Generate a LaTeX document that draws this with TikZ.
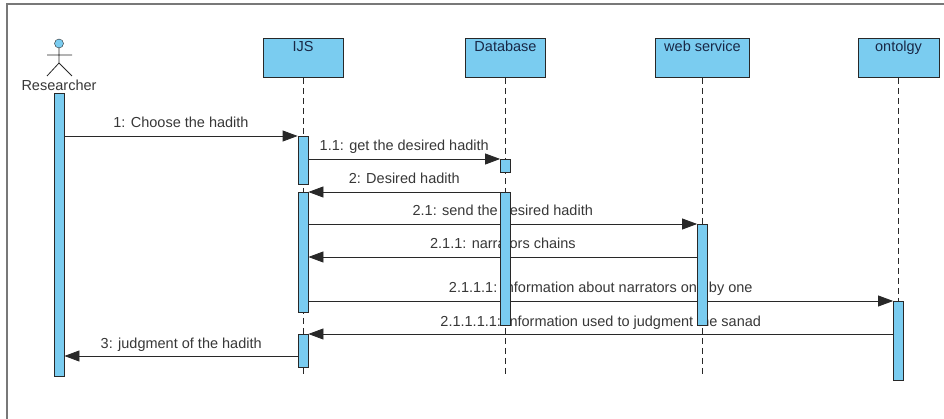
\documentclass[tikz,border=0pt]{standalone}
\usepackage{fontspec}
\setmainfont{Liberation Sans}
\usepackage{tikz}
\usetikzlibrary{arrows.meta, positioning}
\definecolor{seqblue}{RGB}{122,204,240}
\definecolor{seqline}{RGB}{40,40,40}
\definecolor{seqtext}{RGB}{55,55,55}
\definecolor{headtext}{RGB}{25,40,70}
\definecolor{framegray}{RGB}{120,120,120}
\pgfdeclarelayer{background}
\pgfsetlayers{background,main}

\begin{document}
\begin{tikzpicture}[x=1pt, y=-1pt,
    head/.style = {draw=seqline, fill=seqblue, line width=0.9pt, anchor=north,
        minimum height=39pt, inner xsep=0pt, inner ysep=3pt,
        text height=10pt, text depth=23pt, text=headtext,
        font=\fontsize{14.5}{16}\selectfont},
    bar/.style = {draw=seqline, fill=seqblue, line width=0.8pt, anchor=north,
        minimum width=10pt, inner sep=0pt},
    life/.style = {draw=seqline, line width=0.8pt, dash pattern=on 6pt off 4pt},
    msg/.style = {draw=seqline, line width=0.8pt, -{Triangle[length=15pt,width=11pt]}},
    lbl/.style = {text=seqtext, anchor=base, yshift=8pt, inner sep=0pt,
        font=\fontsize{14.5}{16}\selectfont}]

      \useasboundingbox (0,0) rectangle (944,419);
      \draw[framegray, line width=1.4pt] (7,419) -- (7,4) -- (944,4);

      \node[draw=seqline, fill=seqblue, circle, inner sep=0pt, minimum size=9pt] (actor) at (59,43.5) {};
      \draw[seqline, line width=0.8pt]
      (actor.south) -- (59,63) coordinate (hip)
      (hip) -- (47,76)
      (hip) -- (72,76)
      (47,55) -- (72,55);
      \node[lbl, yshift=-8pt, anchor=center] (researcher) at (59,85) {Researcher};

      \node[head, minimum width=80pt] (ijs) at (303,38) {IJS};
      \node[head, minimum width=80pt] (db) at (505.5,38) {Database};
      \node[head, minimum width=94pt] (ws) at (702.5,38) {web service};
      \node[head, minimum width=81pt] (ont) at (898.5,38) {ontolgy};

      \node[bar, minimum height=283pt] (rbar) at (59,93) {};
      \node[bar, minimum height=48pt] (ijs1) at (303,136) {};
      \node[bar, minimum height=13pt] (db1) at (505.5,159) {};
      \node[bar, minimum height=120pt] (ijs2) at (303,192) {};
      \node[bar, minimum height=133pt] (db2) at (505.5,192) {};
      \node[bar, minimum height=101pt] (ws1) at (702.5,224) {};
      \node[bar, minimum height=79pt] (ont1) at (898.5,301) {};
      \node[bar, minimum height=33pt] (ijs3) at (303,334) {};

      \coordinate (r211) at (697.5,257);
      \coordinate (r3) at (298,356);

      \begin{pgfonlayer}{background}
      \draw[life] (ijs.south) -- ++(0,296);
      \draw[life] (db.south) -- ++(0,296);
      \draw[life] (ws.south) -- ++(0,296);
      \draw[life] (ont.south) -- (ont1.north);

      \draw[msg] (rbar.east |- ijs1.north) -- node[lbl] {1: Choose the hadith} (ijs1.north west);
      \draw[msg] (ijs1.east |- db1.north) -- node[lbl] {1.1: get the desired hadith} (db1.north west);
      \draw[msg] (db2.north west) -- node[lbl] {2: Desired hadith} (ijs2.north east);
      \draw[msg] (ijs2.east |- ws1.north) -- node[lbl] {2.1: send the desired hadith} (ws1.north west);
      \draw[msg] (r211) -- node[lbl] {2.1.1: narrators chains} (r211 -| ijs2.east);
      \draw[msg] (ijs2.east |- ont1.north) -- node[lbl] {2.1.1.1: information about narrators one by one} (ont1.north west);
      \draw[msg] (ont1.west |- ijs3.north) -- node[lbl] {2.1.1.1.1: information used to judgment the sanad} (ijs3.north east);
      \draw[msg] (r3) -- node[lbl] {3: judgment of the hadith} (r3 -| rbar.east);
      \end{pgfonlayer}
    \end{tikzpicture}
\end{document}
